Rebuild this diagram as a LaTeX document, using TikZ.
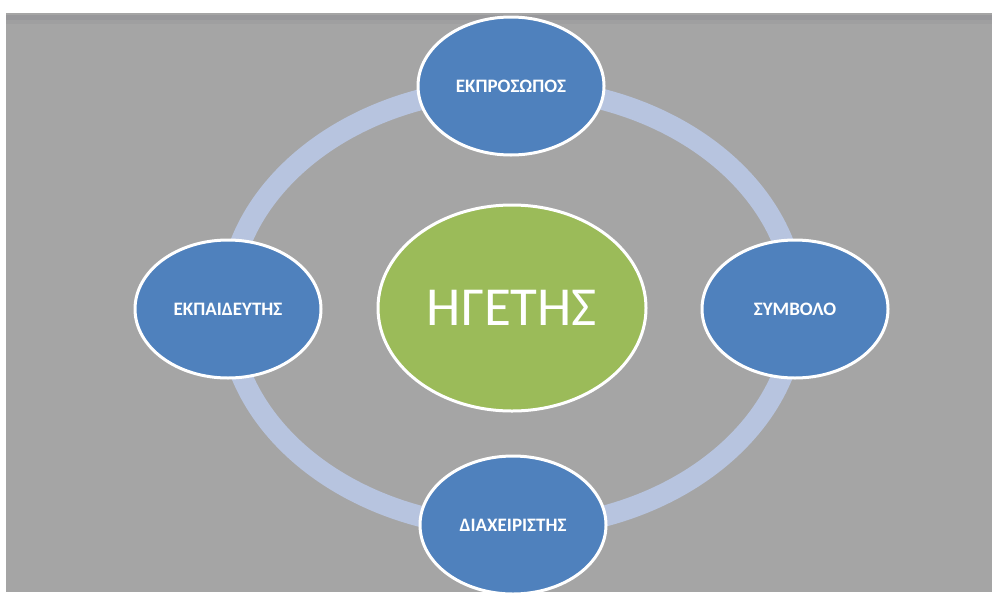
\documentclass[tikz,border=0pt]{standalone}
\usepackage{fontspec}
\setmainfont{Carlito}
\usetikzlibrary{shapes.geometric}
\definecolor{bggray}{HTML}{A5A5A5}
\definecolor{bgband}{HTML}{98989B}
\definecolor{ringblue}{HTML}{B7C4DF}
\definecolor{nodeblue}{HTML}{4F81BD}
\definecolor{nodegreen}{HTML}{9BBB59}
\tikzset{
  rolenode/.style={ellipse, draw=white, line width=3pt, fill=nodeblue,
    minimum width=186pt, minimum height=138pt, inner sep=0pt,
    text=white, font=\fontsize{19}{22}\selectfont\bfseries},
  leadnode/.style={ellipse, draw=white, line width=3pt, fill=nodegreen,
    minimum width=268pt, minimum height=206pt, inner sep=0pt,
    text=white, font=\fontsize{55}{60}\selectfont},
}
\begin{document}
\begin{tikzpicture}[x=1pt,y=-1pt]
  % page and slide background
  \fill[white] (0,0) rectangle (992,592);
  \useasboundingbox (0,0) rectangle (992,592);
  \fill[bggray] (6,13) rectangle (992,592);
  \fill[bgband] (6,15) rectangle (992,20);
  \fill[bgband!50!bggray] (6,20) rectangle (992,24);
  % ring behind the nodes
  \coordinate (ringc) at (512,308);
  \draw[ringblue, line width=21pt] (ringc) ellipse [x radius=284pt, y radius=220pt];
  % nodes
  \node[leadnode] (lead) at (512,308) {ΗΓΕΤΗΣ};
  \node[rolenode] (top) at (511,86) {ΕΚΠΡΟΣΩΠΟΣ};
  \node[rolenode] (left) at (228,309) {ΕΚΠΑΙΔΕΥΤΗΣ};
  \node[rolenode] (right) at (795,309) {ΣΥΜΒΟΛΟ};
  \node[rolenode] (bottom) at (513,525) {ΔΙΑΧΕΙΡΙΣΤΗΣ};
\end{tikzpicture}
\end{document}
